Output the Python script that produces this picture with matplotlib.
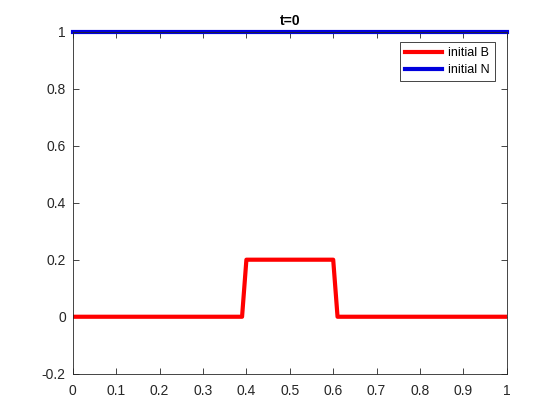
import matplotlib
matplotlib.use('Agg')
import matplotlib.pyplot as plt

# data
xB = [0, 0.39, 0.40, 0.60, 0.61, 1.0]
B0 = [0, 0, 0.2, 0.2, 0, 0]
xN = [0, 1.0]
N0 = [1, 1]

plt.rcParams['font.family'] = ['Liberation Sans', 'DejaVu Sans']
plt.rcParams['font.size'] = 10

fig = plt.figure(figsize=(5.6, 4.2), dpi=100)
ax = fig.add_axes([0.13, 0.11, 0.775, 0.815])

ax.plot(xB, B0, color='#ff0000', lw=3, label='initial B', solid_joinstyle='round')
ax.plot(xN, N0, color='#0000dd', lw=3, label='initial N', clip_on=False)

ax.set_xlim(0, 1)
ax.set_ylim(-0.2, 1)
ax.set_xticks([i / 10 for i in range(11)])
ax.set_xticklabels(['0', '0.1', '0.2', '0.3', '0.4', '0.5', '0.6', '0.7', '0.8', '0.9', '1'])
ax.set_yticks([-0.2, 0, 0.2, 0.4, 0.6, 0.8, 1])
ax.set_yticklabels(['-0.2', '0', '0.2', '0.4', '0.6', '0.8', '1'])
ax.tick_params(direction='in', top=True, right=True, length=4, width=0.6, colors='#262626', labelcolor='#262626')
ax.tick_params(axis='x', pad=7)
ax.tick_params(axis='y', pad=5)
for s in ax.spines.values():
    s.set_linewidth(0.6)
    s.set_color('#262626')

ax.set_title('t=0', fontweight='bold', fontsize=10, color='#000000', pad=5)

leg = ax.legend(loc='upper right', bbox_to_anchor=(0.973, 0.969), borderaxespad=0, fancybox=False, framealpha=1,
                edgecolor='#262626', handlelength=3.0, handletextpad=0.5, borderpad=0.4,
                labelspacing=0.4, fontsize=9)
leg.get_frame().set_linewidth(0.6)

fig.savefig('out.png', dpi=100)
